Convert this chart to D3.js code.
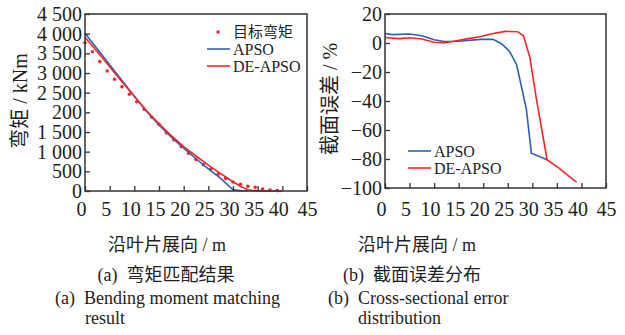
<!DOCTYPE html>
<html>
<head>
<meta charset="utf-8">
<script src="https://cdn.jsdelivr.net/npm/d3@7/dist/d3.min.js"></script>
<style>
	body { margin: 0; background: #fff; }
	svg { display: block; }
	.frame { fill: none; stroke: #333; stroke-width: 1.5; }
	.axis path { display: none; }
	.axis line { stroke: #333; stroke-width: 1.3; }
</style>
</head>
<body>
<script>
var SIZE = { width: 625, height: 335 };
var BLUE = '#2f5fb0';
var RED = '#f4262a';
var FONT = '"Liberation Serif", "Times New Roman", "Noto Sans CJK SC", serif';

// (a) bending moment
var xTicks = [0, 5, 10, 15, 20, 25, 30, 35, 40, 45];
var momentTicks = [0, 500, 1000, 1500, 2000, 2500, 3000, 3500, 4000, 4500];
var momentTickLabels = ['0', '500', '1 000', '1 500', '200', '2 500', '3 000', '3 500', '4 000', '4 500'];

var targetX = [0, 1.5, 3, 4.5, 6, 7.5, 9, 10.5, 12, 13.5, 15, 16.5, 18, 19.5, 21, 22.5, 24, 25.5, 27, 28.5, 30, 31.5, 33, 34.5, 36, 37.5, 39];
var targetM = [3770, 3540, 3290, 3050, 2840, 2650, 2460, 2270, 2080, 1880, 1700, 1480, 1300, 1130, 960, 800, 670, 560, 430, 320, 230, 170, 120, 95, 50, 25, 10];

var apsoX = [0, 2.5, 5, 7.5, 10, 12.5, 15, 17.5, 20, 22.5, 25, 27.5, 30, 31.5, 33];
var apsoM = [4010, 3610, 3210, 2810, 2410, 2020, 1680, 1370, 1090, 820, 565, 320, 30, 10, 5];

var deX = [0, 2.5, 5, 7.5, 10, 12.5, 15, 17.5, 20, 22.5, 25, 27.5, 30, 31.5, 33, 34, 36, 40];
var deM = [3910, 3540, 3160, 2780, 2400, 2040, 1710, 1410, 1130, 890, 660, 440, 236, 120, 30, 10, 3, 0];

// (b) cross-sectional error
var errTicks = [-100, -80, -60, -40, -20, 0, 20];
var apsoErrX = [0, 1.5, 5, 7.5, 10, 12, 15, 19.5, 22, 23.8, 25.4, 26.8, 28.1, 28.8, 29.8, 33];
var apsoErr = [6.5, 5.8, 6.2, 5, 2.3, 1, 1.2, 2.5, 2.5, -0.7, -6, -15, -35, -46, -76, -80.5];
var deErrX = [0, 3, 5, 7.5, 10, 12, 14, 17, 19.5, 22, 24.5, 27, 28.2, 29.5, 30.8, 33, 35.5, 37.5, 39];
var deErr = [3.8, 3, 3.6, 2.8, 0.5, 0, 1.2, 3, 4.5, 6.5, 8, 7.8, 5, -10, -38, -80.5, -86.5, -92, -96];

startSample();

function startSample() {
	var svg = d3.select('body').append('svg')
		.attr('width', SIZE.width)
		.attr('height', SIZE.height)
		.style('font-family', FONT);

	drawMoment(svg);
	drawError(svg);
	drawCaptions(svg);
}

function zip(xs, ys) {
	return xs.map(function (x, i) { return [x, ys[i]]; });
}

function frame(svg, x, y) {
	svg.append('rect')
		.classed('frame', true)
		.attr('x', x.range()[0])
		.attr('y', y.range()[1])
		.attr('width', x.range()[1] - x.range()[0])
		.attr('height', y.range()[0] - y.range()[1]);
}

function styleTicks(sel) {
	sel.selectAll('text')
		.style('font-family', FONT)
		.style('font-size', '20px')
		.style('fill', '#222');
}

function drawAxes(svg, x, y, yTicks, yFormat, xPad) {
	var gx = svg.append('g')
		.classed('axis', true)
		.attr('transform', 'translate(0,' + y.range()[0] + ')')
		.call(d3.axisBottom(x).tickValues(xTicks).tickSize(-5).tickPadding(xPad));
	styleTicks(gx);
	gx.selectAll('text').attr('dx', function (d) { return d === 45 ? 0 : -4; });

	var gy = svg.append('g')
		.classed('axis', true)
		.attr('transform', 'translate(' + x.range()[0] + ',0)')
		.call(d3.axisLeft(y).tickValues(yTicks).tickSize(-5).tickPadding(3).tickFormat(yFormat));
	styleTicks(gy);
}

function legendLine(svg, x, y, color, label) {
	svg.append('line')
		.attr('x1', x).attr('x2', x + 23)
		.attr('y1', y).attr('y2', y)
		.attr('stroke', color).attr('stroke-width', 1.6);
	svg.append('text')
		.attr('x', x + 26).attr('y', y)
		.attr('dy', '0.35em')
		.style('font-size', '16px')
		.style('fill', '#222')
		.text(label);
}

function drawMoment(svg) {
	var x = d3.scaleLinear().domain([0, 45]).range([85, 307]);
	var y = d3.scaleLinear().domain([0, 4500]).range([191, 14]);
	var line = d3.line()
		.x(function (d) { return x(d[0]); })
		.y(function (d) { return y(d[1]); });

	svg.append('g').selectAll('circle')
		.data(zip(targetX, targetM))
		.enter().append('circle')
		.attr('cx', function (d) { return x(d[0]); })
		.attr('cy', function (d) { return y(d[1]); })
		.attr('r', 1.8)
		.attr('fill', RED);

	svg.append('path')
		.attr('d', line(zip(apsoX, apsoM)))
		.attr('fill', 'none').attr('stroke', BLUE).attr('stroke-width', 1.6);
	svg.append('path')
		.attr('d', line(zip(deX, deM)))
		.attr('fill', 'none').attr('stroke', RED).attr('stroke-width', 1.6);

	frame(svg, x, y);
	drawAxes(svg, x, y, momentTicks, function (d, i) { return momentTickLabels[i]; }, 11);

	svg.append('text')
		.attr('transform', 'translate(20,101) rotate(-90)')
		.attr('text-anchor', 'middle')
		.attr('dy', '0.35em')
		.style('font-size', '20px')
		.style('fill', '#222')
		.text('弯矩 / kNm');

	svg.append('circle')
		.attr('cx', 218).attr('cy', 32).attr('r', 1.8).attr('fill', RED);
	svg.append('text')
		.attr('x', 233).attr('y', 32).attr('dy', '0.35em')
		.style('font-size', '15px')
		.style('fill', '#222')
		.text('目标弯矩');
	legendLine(svg, 207, 49, BLUE, 'APSO');
	legendLine(svg, 207, 66, RED, 'DE-APSO');
}

function drawError(svg) {
	var x = d3.scaleLinear().domain([0, 45]).range([385, 606]);
	var y = d3.scaleLinear().domain([-100, 20]).range([188, 14]);
	var line = d3.line()
		.x(function (d) { return x(d[0]); })
		.y(function (d) { return y(d[1]); });

	svg.append('path')
		.attr('d', line(zip(apsoErrX, apsoErr)))
		.attr('fill', 'none').attr('stroke', BLUE).attr('stroke-width', 1.6);
	svg.append('path')
		.attr('d', line(zip(deErrX, deErr)))
		.attr('fill', 'none').attr('stroke', RED).attr('stroke-width', 1.6);

	frame(svg, x, y);
	drawAxes(svg, x, y, errTicks, function (d) { return d < 0 ? '\u2212' + (-d) : String(d); }, 14);

	svg.append('text')
		.attr('transform', 'translate(330,99) rotate(-90)')
		.attr('text-anchor', 'middle')
		.attr('dy', '0.35em')
		.style('font-size', '20px')
		.style('fill', '#222')
		.text('截面误差 / %');

	legendLine(svg, 408, 151, BLUE, 'APSO');
	legendLine(svg, 408, 168, RED, 'DE-APSO');
}

function caption(svg, x, y, anchor, text) {
	svg.append('text')
		.attr('x', x).attr('y', y)
		.attr('dy', '0.35em')
		.attr('text-anchor', anchor)
		.style('font-size', '18px')
		.style('fill', '#222')
		.style('white-space', 'pre')
		.text(text);
}

function drawCaptions(svg) {
	caption(svg, 167, 245, 'middle', '沿叶片展向 / m');
	caption(svg, 417, 245, 'middle', '沿叶片展向 / m');
	caption(svg, 166, 275, 'middle', '(a)  弯矩匹配结果');
	caption(svg, 412, 275, 'middle', '(b)  截面误差分布');
	caption(svg, 55, 298, 'start', '(a)  Bending moment matching');
	caption(svg, 85, 318, 'start', 'result');
	caption(svg, 328, 298, 'start', '(b)  Cross-sectional error');
	caption(svg, 358, 318, 'start', 'distribution');
}
</script>
</body>
</html>
